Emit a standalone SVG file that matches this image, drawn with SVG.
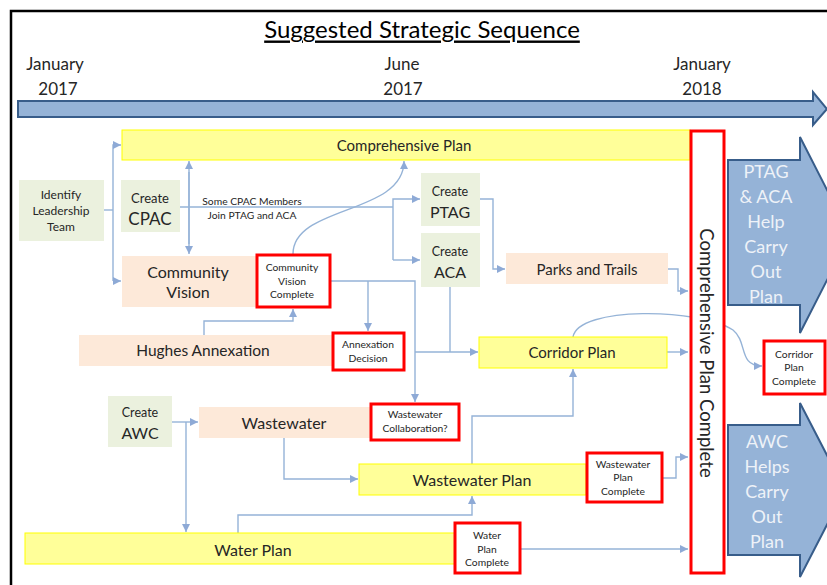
<svg xmlns="http://www.w3.org/2000/svg" width="827" height="585" viewBox="0 0 827 585">
<defs>
<marker id="ah" markerUnits="userSpaceOnUse" markerWidth="9" markerHeight="8" refX="8" refY="4" orient="auto">
<path d="M0,0 L8,4 L0,8 z" fill="#8eaad6"/>
</marker>
<style>
text{font-family:Lato,"Open Sans","Liberation Sans",sans-serif;fill:#262626;text-anchor:middle;dominant-baseline:central}
.green{fill:#ebf1de;stroke:none}
.peach{fill:#fde9d9;stroke:none}
.yellow{fill:#ffff99;stroke:#ffff00;stroke-width:1}
.red{fill:#fff;stroke:#ff0000;stroke-width:3}
.conn{fill:none;stroke:#95b3d7;stroke-width:1.4}
.big{fill:#95b3d7;stroke:#385d8a;stroke-width:2}
.wt{fill:#eef2f8;font-size:18px}
.s9{font-size:10.3px}
</style>
</defs>
<rect width="827" height="585" fill="#fff"/>
<path d="M11,585 V11 H827" fill="none" stroke="#000" stroke-width="2.5"/>

<g id="title">
<text x="422" y="28" font-size="24" text-decoration="underline" style="fill:#000">Suggested Strategic Sequence</text>
</g>
<g id="timeline">
<text x="55" y="63" font-size="17">January</text>
<text x="58" y="88" font-size="17">2017</text>
<text x="402" y="63" font-size="17">June</text>
<text x="403" y="88" font-size="17">2017</text>
<text x="702" y="63" font-size="17">January</text>
<text x="702" y="88" font-size="17">2018</text>
<polygon class="big" points="18,101 813,101 813,92 827,109 813,125 813,117 18,117" stroke-width="1.5"/>
</g>

<g id="connectors">
<path class="conn" d="M104,210 H113"/>
<path class="conn" d="M113,281 V145 H121" marker-end="url(#ah)"/>
<path class="conn" d="M113,281 H121" marker-end="url(#ah)"/>
<path class="conn" d="M189,172 V254" marker-end="url(#ah)"/>
<path class="conn" d="M189,244 V161" marker-end="url(#ah)"/>
<path class="conn" d="M180,207 H393"/>
<path class="conn" d="M393,260 V199 H420" marker-end="url(#ah)"/>
<path class="conn" d="M393,260 H420" marker-end="url(#ah)"/>
<path class="conn" d="M293,254 C293,205 404,215 404,161" marker-end="url(#ah)"/>
<path class="conn" d="M480,199 H493 V269 H505" marker-end="url(#ah)"/>
<path class="conn" d="M668,269 H678 V291 H688" marker-end="url(#ah)"/>
<path class="conn" d="M450,287 V352"/>
<path class="conn" d="M415,352 H478" marker-end="url(#ah)"/>
<path class="conn" d="M331,281 H415 V402" marker-end="url(#ah)"/>
<path class="conn" d="M368,281 V331" marker-end="url(#ah)"/>
<path class="conn" d="M204,335 V321 H293 V309" marker-end="url(#ah)"/>
<path class="conn" d="M172,422 H198" marker-end="url(#ah)"/>
<path class="conn" d="M186,422 V532" marker-end="url(#ah)"/>
<path class="conn" d="M284,438 V479 H358" marker-end="url(#ah)"/>
<path class="conn" d="M472,464 V416 H573 V369" marker-end="url(#ah)"/>
<path class="conn" d="M667,352 H688" marker-end="url(#ah)"/>
<path class="conn" d="M573,337 C578,306 700,308 733,330 C748,342 738,366 762,366" marker-end="url(#ah)"/>
<path class="conn" d="M662,478 H676 V457 H688" marker-end="url(#ah)"/>
<path class="conn" d="M238,533 V515 H472 V496" marker-end="url(#ah)"/>
<path class="conn" d="M521,549 H688" marker-end="url(#ah)"/>
</g>

<g id="comprehensive-plan">
<rect class="yellow" x="122" y="130" width="568" height="30"/>
<text x="404" y="145" font-size="15">Comprehensive Plan</text>
</g>
<g id="comp-plan-complete">
<rect class="red" x="691" y="131" width="33" height="442"/>
<text transform="translate(707,353) rotate(90)" font-size="18.5">Comprehensive Plan Complete</text>
</g>
<g id="ptag-aca-arrow">
<polygon class="big" points="728,160 800,160 800,137 850,235 800,333 800,305 728,305"/>
<text class="wt" x="766" y="171">PTAG</text>
<text class="wt" x="766" y="196">&amp; ACA</text>
<text class="wt" x="766" y="221">Help</text>
<text class="wt" x="766" y="246">Carry</text>
<text class="wt" x="766" y="271">Out</text>
<text class="wt" x="766" y="296">Plan</text>
</g>
<g id="awc-arrow">
<polygon class="big" points="728,425 800,425 800,403 845,490 800,577 800,555 728,555"/>
<text class="wt" x="767" y="441">AWC</text>
<text class="wt" x="767" y="466">Helps</text>
<text class="wt" x="767" y="491">Carry</text>
<text class="wt" x="767" y="516">Out</text>
<text class="wt" x="767" y="541">Plan</text>
</g>
<g id="corridor-complete">
<rect class="red" x="764" y="341" width="61" height="53"/>
<text class="s9" x="794" y="354">Corridor</text>
<text class="s9" x="794" y="367">Plan</text>
<text class="s9" x="794" y="381">Complete</text>
</g>
<g id="identify-leadership">
<rect class="green" x="19" y="180" width="85" height="61"/>
<text x="61" y="194" font-size="12">Identify</text>
<text x="61" y="210" font-size="12">Leadership</text>
<text x="61" y="226" font-size="12">Team</text>
</g>
<g id="create-cpac">
<rect class="green" x="121" y="180" width="59" height="52"/>
<text x="150" y="198" font-size="13">Create</text>
<text x="150" y="218" font-size="17">CPAC</text>
</g>
<g id="cpac-label">
<text class="s9" x="252" y="201">Some CPAC Members</text>
<text class="s9" x="252" y="215">Join PTAG and ACA</text>
</g>
<g id="community-vision">
<rect class="peach" x="122" y="256" width="134" height="51"/>
<text x="188" y="271" font-size="16">Community</text>
<text x="188" y="291" font-size="16">Vision</text>
</g>
<g id="community-vision-complete">
<rect class="red" x="257" y="255" width="73" height="52"/>
<text class="s9" x="292" y="267">Community</text>
<text class="s9" x="292" y="281">Vision</text>
<text class="s9" x="292" y="294">Complete</text>
</g>
<g id="create-ptag">
<rect class="green" x="421" y="173" width="59" height="53"/>
<text x="450" y="191" font-size="12.5">Create</text>
<text x="450" y="211" font-size="16">PTAG</text>
</g>
<g id="create-aca">
<rect class="green" x="421" y="233" width="59" height="54"/>
<text x="450" y="251" font-size="12.5">Create</text>
<text x="450" y="271" font-size="16">ACA</text>
</g>
<g id="parks-trails">
<rect class="peach" x="506" y="253" width="162" height="31"/>
<text x="587" y="269" font-size="15">Parks and Trails</text>
</g>
<g id="hughes-annexation">
<rect class="peach" x="79" y="335" width="253" height="31"/>
<text x="203" y="350" font-size="15.5">Hughes Annexation</text>
</g>
<g id="annexation-decision">
<rect class="red" x="333" y="333" width="71" height="37"/>
<text class="s9" x="368" y="344">Annexation</text>
<text class="s9" x="368" y="358">Decision</text>
</g>
<g id="corridor-plan">
<rect class="yellow" x="479" y="337" width="188" height="31"/>
<text x="572" y="352" font-size="15">Corridor Plan</text>
</g>
<g id="create-awc">
<rect class="green" x="108" y="396" width="64" height="51"/>
<text x="140" y="412" font-size="12.5">Create</text>
<text x="140" y="432" font-size="16">AWC</text>
</g>
<g id="wastewater">
<rect class="peach" x="199" y="407" width="172" height="31"/>
<text x="284" y="422" font-size="16">Wastewater</text>
</g>
<g id="wastewater-collab">
<rect class="red" x="371" y="404" width="88" height="36"/>
<text class="s9" x="415" y="414">Wastewater</text>
<text class="s9" x="415" y="428">Collaboration?</text>
</g>
<g id="wastewater-plan">
<rect class="yellow" x="359" y="464" width="227" height="31" stroke="none"/>
<text x="472" y="479" font-size="16">Wastewater Plan</text>
</g>
<g id="wastewater-plan-complete">
<rect class="red" x="587" y="453" width="75" height="49"/>
<text class="s9" x="623" y="464">Wastewater</text>
<text class="s9" x="623" y="477">Plan</text>
<text class="s9" x="623" y="491">Complete</text>
</g>
<g id="water-plan">
<rect class="yellow" x="25" y="533" width="430" height="31" stroke="none"/>
<text x="253" y="549" font-size="16">Water Plan</text>
</g>
<g id="water-plan-complete">
<rect class="red" x="455" y="523" width="65" height="50"/>
<text class="s9" x="487" y="535">Water</text>
<text class="s9" x="487" y="549">Plan</text>
<text class="s9" x="487" y="562">Complete</text>
</g>
</svg>
